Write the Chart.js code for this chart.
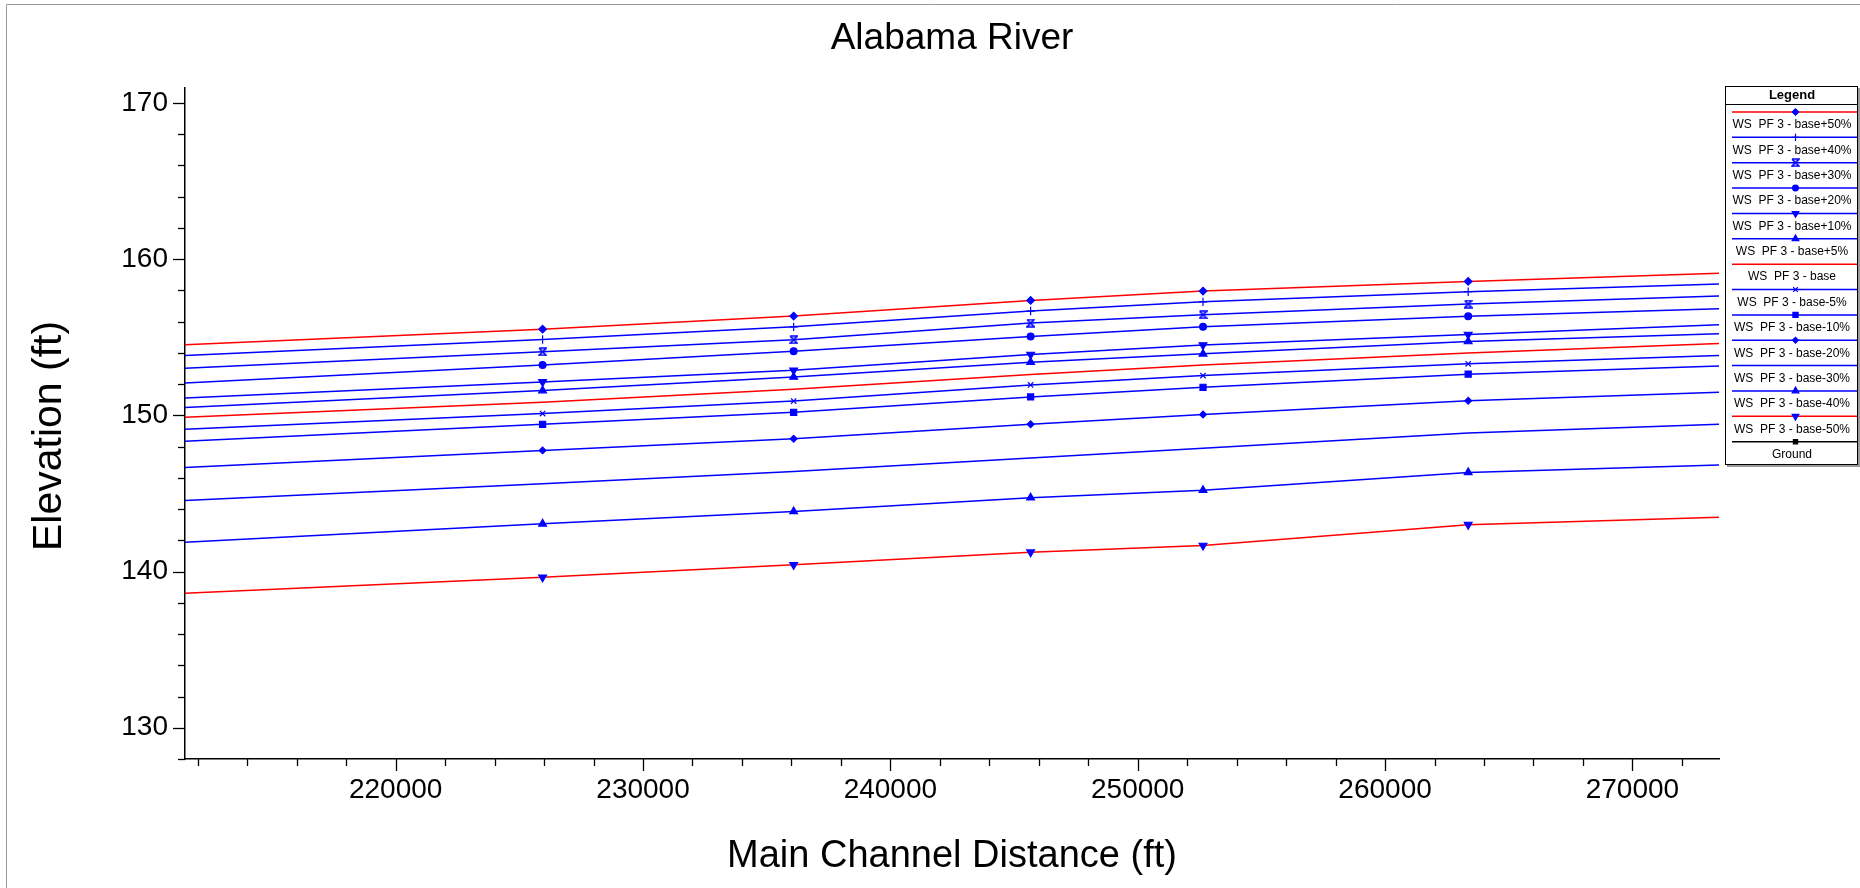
<!DOCTYPE html>
<html><head><meta charset="utf-8">
<script src="https://cdn.jsdelivr.net/npm/chart.js@4.4.1/dist/chart.umd.min.js"></script>
<style>html,body{margin:0;padding:0;background:#fff;overflow:hidden}canvas{display:block}</style>
</head><body><canvas id="c" width="1860" height="888"></canvas>
<script>
// ---------- DATA ----------
const chartTitle = 'Alabama River';
const xAxisTitle = 'Main Channel Distance (ft)';
const yAxisTitle = 'Elevation (ft)';
const legendTitle = 'Legend';
const stations = [211483, 225940, 236090, 245670, 252640, 263360, 273500];
const seriesNames = [
  'WS  PF 3 - base+50%', 'WS  PF 3 - base+40%', 'WS  PF 3 - base+30%', 'WS  PF 3 - base+20%',
  'WS  PF 3 - base+10%', 'WS  PF 3 - base+5%', 'WS  PF 3 - base', 'WS  PF 3 - base-5%',
  'WS  PF 3 - base-10%', 'WS  PF 3 - base-20%', 'WS  PF 3 - base-30%', 'WS  PF 3 - base-40%',
  'WS  PF 3 - base-50%', 'Ground'
];
const wsPlus50  = [154.52, 155.52, 156.36, 157.36, 157.96, 158.58, 159.10];
const wsPlus40  = [153.84, 154.86, 155.67, 156.68, 157.27, 157.92, 158.41];
const wsPlus30  = [153.02, 154.07, 154.84, 155.91, 156.44, 157.13, 157.64];
const wsPlus20  = [152.08, 153.23, 154.11, 155.05, 155.67, 156.34, 156.82];
const wsPlus10  = [151.12, 152.14, 152.89, 153.90, 154.50, 155.18, 155.80];
const wsPlus5   = [150.50, 151.59, 152.46, 153.41, 153.94, 154.73, 155.22];
const wsBase    = [149.88, 150.84, 151.67, 152.62, 153.23, 154.00, 154.61];
const wsMinus5  = [149.11, 150.12, 150.92, 151.95, 152.55, 153.30, 153.84];
const wsMinus10 = [148.34, 149.43, 150.20, 151.18, 151.80, 152.64, 153.17];
const wsMinus20 = [146.67, 147.76, 148.51, 149.43, 150.05, 150.93, 151.48];
const wsMinus30 = [144.55, 145.63, 146.40, 147.27, 147.89, 148.87, 149.43];
const wsMinus40 = [141.88, 143.06, 143.85, 144.73, 145.21, 146.35, 146.82];
const wsMinus50 = [138.61, 139.63, 140.43, 141.24, 141.67, 143.00, 143.48];
const groundValues = []; // ground lies below the plotted range: nothing visible
const yMajorTicks = [130, 140, 150, 160, 170];
const yMinorTicks = [128, 132, 134, 136, 138, 142, 144, 146, 148, 152, 154, 156, 158, 162, 164, 166, 168];
const xMajorTicks = [220000, 230000, 240000, 250000, 260000, 270000];
const xMinorTicks = [212000, 214000, 216000, 218000, 222000, 224000, 226000, 228000, 232000, 234000,
  236000, 238000, 242000, 244000, 246000, 248000, 252000, 254000, 256000, 258000, 262000, 264000,
  266000, 268000, 272000];
const yRange = [128, 171];

// ---------- STYLES ----------
function hourglass() {
  const c = document.createElement('canvas'); c.width = 9; c.height = 9;
  const g = c.getContext('2d'); g.strokeStyle = '#0000ff'; g.lineWidth = 1.6;
  g.beginPath(); g.moveTo(1,1); g.lineTo(8,1); g.lineTo(1,8); g.lineTo(8,8); g.lineTo(1,1); g.stroke();
  return c;
}
const HG = hourglass();
const RED = '#ff0000', BLUE = '#0000ff';
const styles = [
  {c: RED,  p: 'rectRot', r: 3.8, rot: 0},
  {c: BLUE, p: 'cross', r: 4.2, rot: 0},
  {c: BLUE, p: HG, r: 4, rot: 0},
  {c: BLUE, p: 'circle', r: 3.4, rot: 0},
  {c: BLUE, p: 'triangle', r: 4.5, rot: 180},
  {c: BLUE, p: 'triangle', r: 4.5, rot: 0},
  {c: RED,  p: false, r: 0, rot: 0},
  {c: BLUE, p: 'crossRot', r: 3.8, rot: 0},
  {c: BLUE, p: 'rect', r: 4.3, rot: 0},
  {c: BLUE, p: 'rectRot', r: 3.4, rot: 0},
  {c: BLUE, p: false, r: 0, rot: 0},
  {c: BLUE, p: 'triangle', r: 4.5, rot: 0},
  {c: RED,  p: 'triangle', r: 4.5, rot: 180},
  {c: '#000000', p: 'rect', r: 3.5, rot: 0}
];
const seriesValues = [wsPlus50, wsPlus40, wsPlus30, wsPlus20, wsPlus10, wsPlus5, wsBase,
  wsMinus5, wsMinus10, wsMinus20, wsMinus30, wsMinus40, wsMinus50, groundValues];

const datasets = seriesValues.map((vals, i) => {
  const s = styles[i];
  const markerColor = i === 13 ? '#000000' : BLUE;
  return {
    label: seriesNames[i],
    data: vals.map((v, k) => ({x: stations[k], y: v})),
    borderColor: s.c,
    borderWidth: 1.5,
    pointStyle: s.p || 'circle',
    pointRotation: s.rot,
    pointBackgroundColor: markerColor,
    pointBorderColor: markerColor,
    pointBorderWidth: 1.2,
    pointRadius: ctx => (!s.p || ctx.dataIndex === 0 || ctx.dataIndex === vals.length - 1) ? 0 : s.r,
    pointHoverRadius: 0,
    tension: 0,
    fill: false
  };
});

// ---------- PLUGINS ----------
const FONT = "'Liberation Sans', Arial, sans-serif";
const decor = {
  id: 'decor',
  afterDraw(chart) {
    const ctx = chart.ctx;
    const xs = chart.scales.x, ys = chart.scales.y;
    const area = chart.chartArea;
    ctx.save();
    // tick marks
    ctx.strokeStyle = '#000'; ctx.lineWidth = 1.3;
    ys.ticks.forEach(t => {
      const y = Math.round(ys.getPixelForValue(t.value)) + 0.5;
      const len = yMajorTicks.includes(t.value) ? 12 : 7;
      ctx.beginPath(); ctx.moveTo(area.left - len, y); ctx.lineTo(area.left, y); ctx.stroke();
    });
    xs.ticks.forEach(t => {
      const x = Math.round(xs.getPixelForValue(t.value)) + 0.5;
      const len = xMajorTicks.includes(t.value) ? 12 : 7;
      ctx.beginPath(); ctx.moveTo(x, area.bottom); ctx.lineTo(x, area.bottom + len); ctx.stroke();
    });
    // y axis title
    ctx.fillStyle = '#000'; ctx.font = '41px ' + FONT;
    ctx.textAlign = 'center'; ctx.textBaseline = 'middle';
    ctx.translate(50, 436); ctx.rotate(-Math.PI / 2);
    ctx.fillText(yAxisTitle, 0, 0);
    ctx.setTransform(1, 0, 0, 1, 0, 0);
    // outer frame
    ctx.strokeStyle = '#9a9a9a'; ctx.lineWidth = 1;
    ctx.beginPath(); ctx.moveTo(6.5, 888); ctx.lineTo(6.5, 4.5); ctx.lineTo(1860, 4.5); ctx.stroke();
    // legend box
    const L = 1725, R = 1858, T = 86, B = 465;
    ctx.fillStyle = '#9a9a9a'; ctx.fillRect(L + 2, T + 2, R - L, B - T);
    ctx.fillStyle = '#fff'; ctx.fillRect(L, T, R - L, B - T);
    ctx.strokeStyle = '#000'; ctx.lineWidth = 1;
    ctx.strokeRect(L + 0.5, T + 0.5, R - L - 1, B - T - 1);
    ctx.beginPath(); ctx.moveTo(L, 104.5); ctx.lineTo(R, 104.5); ctx.stroke();
    ctx.fillStyle = '#000'; ctx.textAlign = 'center'; ctx.textBaseline = 'middle';
    ctx.font = 'bold 13px ' + FONT;
    ctx.fillText(legendTitle, 1792, 95.5);
    chart.data.datasets.forEach((ds, i) => {
      const ly = 112 + 25.36 * i;
      ctx.strokeStyle = ds.borderColor; ctx.lineWidth = 1.5;
      ctx.beginPath(); ctx.moveTo(1732, ly); ctx.lineTo(1857, ly); ctx.stroke();
      const s = styles[i];
      if (s.p) {
        const mc = i === 13 ? '#000' : BLUE;
        ctx.fillStyle = mc; ctx.strokeStyle = mc; ctx.lineWidth = 1.2;
        Chart.helpers.drawPoint(ctx, {pointStyle: s.p, radius: s.r * 0.85, rotation: s.rot, borderWidth: 1.2}, 1795.5, ly);
      }
      ctx.fillStyle = '#000'; ctx.font = '12px ' + FONT;
      ctx.fillText(ds.label, 1792, ly + 13);
    });
    ctx.restore();
  }
};

new Chart(document.getElementById('c'), {
  type: 'line',
  data: {datasets},
  options: {
    responsive: false,
    devicePixelRatio: 1,
    animation: false,
    events: [],
    layout: {padding: {left: 0, right: 141, top: 0, bottom: 0}},
    plugins: {
      legend: {display: false},
      tooltip: {enabled: false},
      title: {
        display: true, text: chartTitle, color: '#000', fullSize: false,
        font: {family: FONT, size: 37, weight: 'normal'},
        padding: {top: 17, bottom: 26}
      }
    },
    scales: {
      x: {
        type: 'linear', position: 'bottom', min: stations[0], max: stations[stations.length - 1],
        afterFit: s => { s.height = 129; },
        afterBuildTicks: s => { s.ticks = xMajorTicks.concat(xMinorTicks).sort((a, b) => a - b).map(v => ({value: v})); },
        ticks: {
          autoSkip: false, maxRotation: 0, minRotation: 0,
          color: '#000', font: {family: FONT, size: 28}, padding: 14,
          callback: v => xMajorTicks.includes(v) ? String(v) : ''
        },
        grid: {display: false, drawTicks: false},
        border: {display: true, color: '#000', width: 1.5},
        title: {display: true, text: xAxisTitle, color: '#000', font: {family: FONT, size: 38}, padding: {top: 0, bottom: 9}}
      },
      y: {
        type: 'linear', position: 'left', min: yRange[0], max: yRange[1],
        afterFit: s => { s.width = 185; },
        afterBuildTicks: s => { s.ticks = yMajorTicks.concat(yMinorTicks).sort((a, b) => a - b).map(v => ({value: v})); },
        ticks: {
          autoSkip: false,
          color: '#000', font: {family: FONT, size: 28}, padding: 17,
          callback: v => yMajorTicks.includes(v) ? String(v) : ''
        },
        grid: {display: false, drawTicks: false},
        border: {display: true, color: '#000', width: 1.5},
        title: {display: false}
      }
    }
  },
  plugins: [decor]
});
</script>
</body></html>
